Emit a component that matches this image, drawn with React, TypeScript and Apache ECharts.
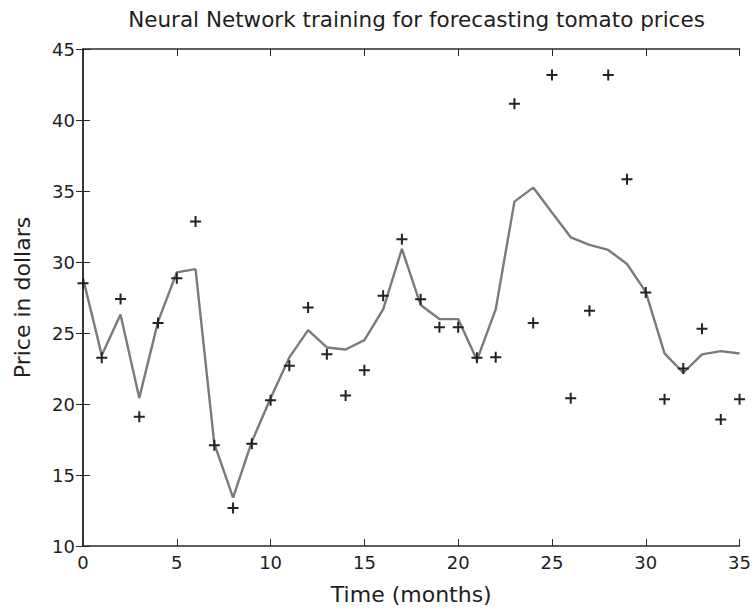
import React, { useEffect, useRef } from "react";
import * as echarts from "echarts";

const months = [0, 1, 2, 3, 4, 5, 6, 7, 8, 9, 10, 11, 12, 13, 14, 15, 16, 17, 18, 19, 20, 21, 22, 23, 24, 25, 26, 27, 28, 29, 30, 31, 32, 33, 34, 35];
const actualPrices = [28.5, 23.25, 27.4, 19.1, 25.7, 28.85, 32.85, 17.1, 12.67, 17.2, 20.27, 22.69, 26.8, 23.5, 20.6, 22.38, 27.62, 31.6, 27.37, 25.4, 25.4, 23.25, 23.3, 41.14, 25.7, 43.17, 20.41, 26.57, 43.17, 35.83, 27.86, 20.34, 22.5, 25.3, 18.9, 20.34];
const networkOutput = [28.85, 23.44, 26.31, 20.43, 25.8, 29.27, 29.5, 17.2, 13.4, 17.35, 20.4, 23.28, 25.2, 23.98, 23.84, 24.5, 26.66, 30.92, 26.97, 25.98, 25.98, 23.09, 26.66, 34.25, 35.24, 33.48, 31.74, 31.2, 30.85, 29.86, 27.9, 23.56, 22.2, 23.49, 23.72, 23.56];

const titleText = "Neural Network training for forecasting tomato prices";
const xName = "Time (months)";
const yName = "Price in dollars";

const FONT = "DejaVu Sans";
const AXIS_COLOR = "#2a2a2a";
const TEXT_COLOR = "#1e1e1e";
const PLUS = "path://M4.5,0h2v4.5h4.5v2h-4.5v4.5h-2v-4.5h-4.5v-2h4.5z";

export default function App() {
  const ref = useRef<HTMLDivElement>(null);
  useEffect(() => {
    if (!ref.current) return;
    const chart = echarts.init(ref.current, null, { renderer: "svg" });
    const axisLine = { show: true, lineStyle: { color: AXIS_COLOR, width: 1.5 } };
    const tick = { show: true, inside: true, length: 7, lineStyle: { color: AXIS_COLOR, width: 1 } };
    chart.setOption({
      animation: false,
      backgroundColor: "#ffffff",
      title: {
        text: titleText,
        left: 411.5,
        textAlign: "center",
        top: 3,
        textStyle: { fontFamily: FONT, fontSize: 21.5, fontWeight: "normal", color: TEXT_COLOR },
      },
      grid: { left: 83, right: 14, top: 49, bottom: 68, containLabel: false },
      xAxis: [
        {
          type: "value",
          min: 0,
          max: 35,
          interval: 5,
          position: "bottom",
          name: xName,
          nameLocation: "middle",
          nameGap: 37,
          nameTextStyle: { fontFamily: FONT, fontSize: 22, color: TEXT_COLOR },
          axisLine,
          axisTick: tick,
          axisLabel: { fontFamily: FONT, fontSize: 18, color: TEXT_COLOR, margin: 7 },
          splitLine: { show: false },
        },
        {
          type: "value",
          min: 0,
          max: 35,
          interval: 5,
          position: "top",
          axisLine,
          axisTick: tick,
          axisLabel: { show: false },
          splitLine: { show: false },
        },
      ],
      yAxis: [
        {
          type: "value",
          min: 10,
          max: 45,
          interval: 5,
          position: "left",
          name: yName,
          nameLocation: "middle",
          nameGap: 50,
          nameTextStyle: { fontFamily: FONT, fontSize: 22, color: TEXT_COLOR },
          axisLine,
          axisTick: tick,
          axisLabel: { fontFamily: FONT, fontSize: 18, color: TEXT_COLOR, margin: 8 },
          splitLine: { show: false },
        },
        {
          type: "value",
          min: 10,
          max: 45,
          interval: 5,
          position: "right",
          axisLine,
          axisTick: tick,
          axisLabel: { show: false },
          splitLine: { show: false },
        },
      ],
      series: [
        {
          type: "line",
          data: months.map((m, i) => [m, networkOutput[i]]),
          showSymbol: false,
          symbol: "none",
          lineStyle: { color: "#7a7a7a", width: 2.4 },
          z: 2,
        },
        {
          type: "scatter",
          data: months.map((m, i) => [m, actualPrices[i]]),
          symbol: PLUS,
          symbolSize: 11,
          symbolKeepAspect: true,
          clip: false,
          itemStyle: { color: "#222222", opacity: 1 },
          z: 3,
        },
      ],
    });
    return () => chart.dispose();
  }, []);
  return (
    <div
      ref={ref}
      style={{ position: "fixed", left: 0, top: 0, width: 754, height: 614, background: "#fff" }}
    />
  );
}
